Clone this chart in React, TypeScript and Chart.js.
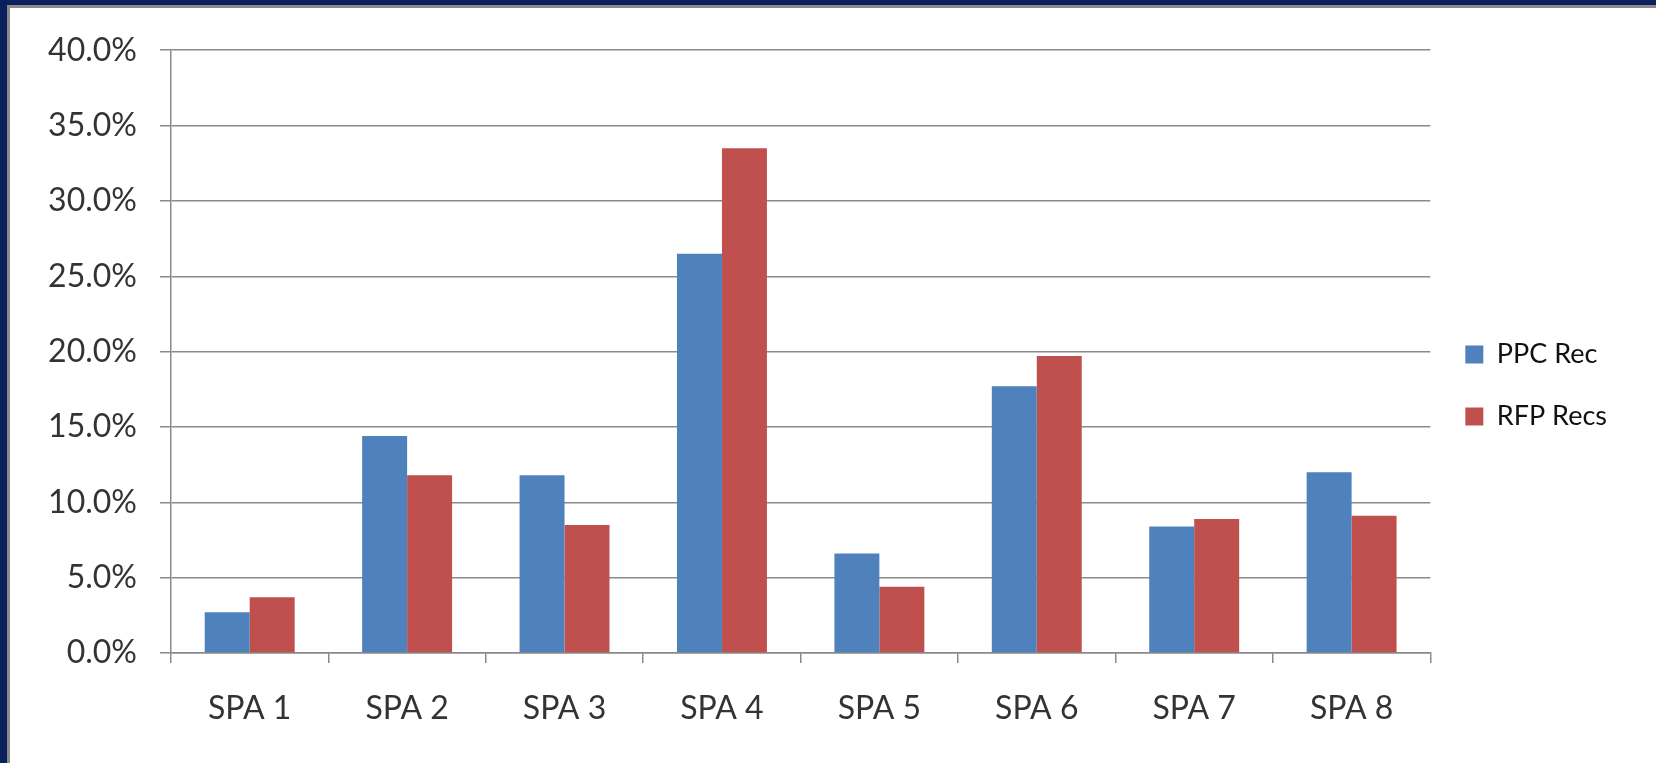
import React, { useEffect, useRef } from "react";
import { Chart, registerables } from "chart.js";

Chart.register(...registerables);

const categories = ["SPA 1", "SPA 2", "SPA 3", "SPA 4", "SPA 5", "SPA 6", "SPA 7", "SPA 8"];
const ppcRec = [2.7, 14.4, 11.8, 26.5, 6.6, 17.7, 8.4, 12.0];
const rfpRecs = [3.7, 11.8, 8.5, 33.5, 4.4, 19.7, 8.9, 9.1];
const seriesNames = ["PPC Rec", "RFP Recs"];
const yMin = 0;
const yMax = 40;
const yStep = 5;

const CANVAS_W = 1646;
const CANVAS_H = 755;

export default function App() {
  const ref = useRef<HTMLCanvasElement | null>(null);

  useEffect(() => {
    const canvas = ref.current;
    if (!canvas) return;
    const gridColor = "#8a8a8a";
    const chart = new Chart(canvas, {
      type: "bar",
      data: {
        labels: categories,
        datasets: [
          {
            label: seriesNames[0],
            data: ppcRec,
            backgroundColor: "#4F81BD",
            borderWidth: 0,
          },
          {
            label: seriesNames[1],
            data: rfpRecs,
            backgroundColor: "#C0504D",
            borderWidth: 0,
          },
        ],
      },
      options: {
        responsive: false,
        animation: false,
        devicePixelRatio: 1,
        layout: { padding: { top: 40, right: 39, bottom: 40, left: 0 } },
        datasets: {
          bar: { categoryPercentage: 2 / 3.5, barPercentage: 1 },
        },
        scales: {
          x: {
            grid: {
              display: true,
              offset: true,
              drawOnChartArea: false,
              drawTicks: true,
              tickLength: 10,
              color: gridColor,
              lineWidth: 1.5,
            },
            border: { display: true, color: gridColor, width: 1.5 },
            ticks: {
              color: "#333333",
              font: { family: "Lato", size: 32 },
              padding: 26,
              maxRotation: 0,
            },
            afterFit: (scale: any) => {
              scale.height = 70;
            },
          },
          y: {
            min: yMin,
            max: yMax,
            grid: {
              color: gridColor,
              lineWidth: 1.5,
              drawTicks: true,
              tickLength: 11,
            },
            border: { display: true, color: gridColor, width: 1.5 },
            ticks: {
              stepSize: yStep,
              color: "#333333",
              font: { family: "Lato", size: 32 },
              padding: 23,
              callback: (v: any) => Number(v).toFixed(1) + "%",
            },
            afterFit: (scale: any) => {
              scale.width = 161;
            },
          },
        },
        plugins: {
          legend: {
            position: "right",
            labels: {
              boxWidth: 18,
              boxHeight: 18,
              padding: 35,
              color: "#111111",
              font: { family: "Lato", size: 27 },
            },
          },
          tooltip: { enabled: false },
          title: { display: false },
        },
      },
    });
    return () => chart.destroy();
  }, []);

  return (
    <div
      style={{
        position: "fixed",
        left: 0,
        top: 0,
        width: 1656,
        height: 763,
        background: "#0a1f5c",
        overflow: "hidden",
      }}
    >
      <div
        style={{
          position: "absolute",
          left: 7,
          top: 5,
          right: 0,
          bottom: 0,
          background: "#ffffff",
          borderTop: "3px solid #8a8a8a",
          borderLeft: "3px solid #8a8a8a",
        }}
      />
      <canvas
        ref={ref}
        width={CANVAS_W}
        height={CANVAS_H}
        style={{ position: "absolute", left: 10, top: 8, width: CANVAS_W, height: CANVAS_H }}
      />
    </div>
  );
}
